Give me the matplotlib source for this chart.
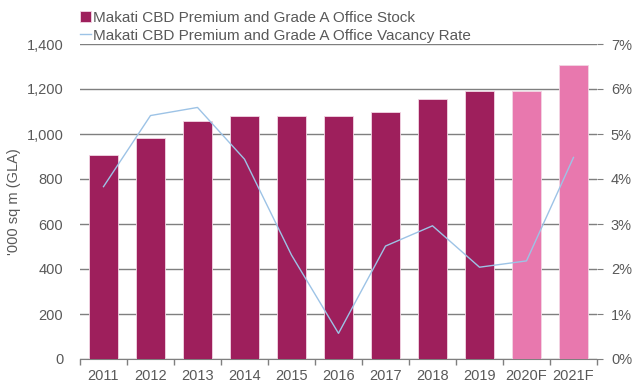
import matplotlib.pyplot as plt
import numpy as np

years = ["2011", "2012", "2013", "2014", "2015", "2016", "2017", "2018", "2019", "2020F", "2021F"]
stock = [907, 984, 1058, 1080, 1080, 1080, 1099, 1156, 1191, 1191, 1307]
vacancy = [3.83, 5.41, 5.59, 4.44, 2.31, 0.57, 2.51, 2.96, 2.04, 2.18, 4.48]
forecast = [False] * 9 + [True] * 2

plt.rcParams['font.family'] = ['Liberation Sans', 'DejaVu Sans']
text_col = '#595959'
grid_col = '#7f7f7f'

fig = plt.figure(figsize=(6.33, 3.85), dpi=100)
ax = fig.add_axes([80 / 633, 1 - 359 / 385, 517 / 633, 315 / 385])
ax2 = ax.twinx()

x = np.arange(len(years))
colors = ['#E878AE' if f else '#9E1F5C' for f in forecast]
bars = ax.bar(x, stock, width=0.62, color=colors, edgecolor='#f2d6e4', linewidth=0.6, zorder=3,
              label='Makati CBD Premium and Grade A Office Stock')
line, = ax2.plot(x, vacancy, color='#9DC3E6', linewidth=1.0, zorder=4,
                 label='Makati CBD Premium and Grade A Office Vacancy Rate')

ax.set_xlim(-0.5, len(years) - 0.5)
ax.set_ylim(0, 1400)
ax.set_yticks(range(0, 1401, 200))
ax.set_yticklabels([f"{v:,}" for v in range(0, 1401, 200)])
ax.grid(axis='y', color=grid_col, linewidth=1.0, zorder=0)
ax.set_axisbelow(True)

ax2.set_ylim(0, 7)
ax2.set_yticks(range(0, 8))
ax2.set_yticklabels([f"{v}%" for v in range(0, 8)])

ax.set_xticks(x)
ax.set_xticklabels(years)
ax.set_xticks(np.arange(-0.5, len(years), 1), minor=True)
ax.tick_params(axis='x', which='major', length=0, pad=7, labelsize=10.5, labelcolor=text_col)
ax.tick_params(axis='x', which='minor', length=4, color=grid_col, width=1)
ax.tick_params(axis='y', length=0, pad=12, labelsize=10.5, labelcolor=text_col)
ax2.tick_params(axis='y', length=4, color=grid_col, pad=6, labelsize=10.5, labelcolor=text_col)

for a in (ax, ax2):
    for s in ('top', 'left', 'right'):
        a.spines[s].set_visible(False)
ax.spines['bottom'].set_color(grid_col)
ax2.spines['bottom'].set_visible(False)

ax.set_ylabel("'000 sq m (GLA)", fontsize=10.5, color=text_col, labelpad=4)

fig.legend(handles=[bars, line], loc='upper left', bbox_to_anchor=(80 / 633, 1 - 11 / 385),
           frameon=False, fontsize=11, labelcolor=text_col, handlelength=0.7, handletextpad=0.15,
           labelspacing=0.25, borderpad=0, borderaxespad=0)

fig.savefig('out.png', dpi=100)
